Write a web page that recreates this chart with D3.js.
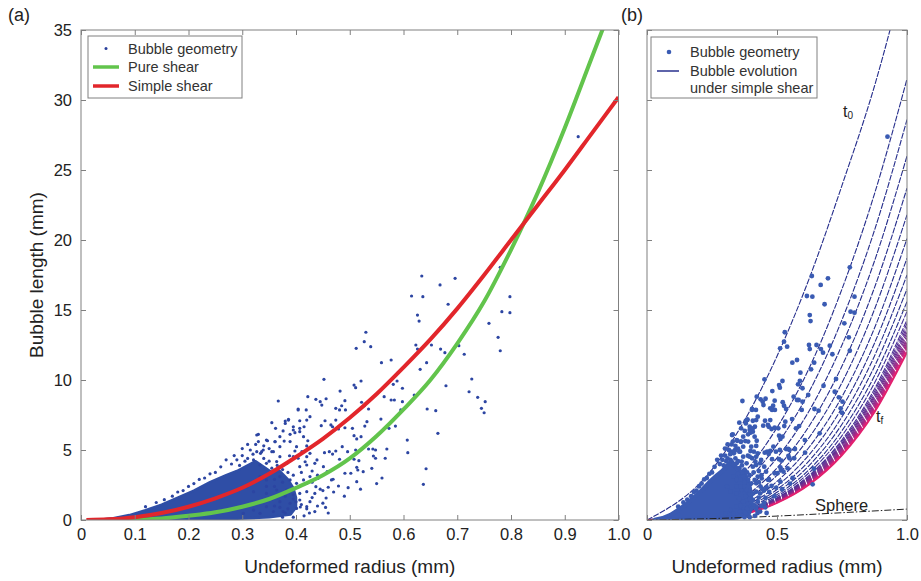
<!DOCTYPE html>
<html><head><meta charset="utf-8">
<script src="https://cdn.jsdelivr.net/npm/d3@7"></script>
<style>body{margin:0;background:#fff} svg{display:block;font-family:"Liberation Sans",Arial,sans-serif}</style>
</head><body><svg id="c" width="921" height="581"></svg>
<script>
// ---------- DATA ----------
const xTicksA = [0,0.1,0.2,0.3,0.4,0.5,0.6,0.7,0.8,0.9,1.0];
const xTicksB = [0,0.5,1.0];
const yTicks = [0,5,10,15,20,25,30,35];

// scattered bubble measurements [radius, length]
const bubblePoints = [
 [0.925,27.38],[0.634,17.43],[0.696,17.26],[0.668,16.79],[0.615,16.0],[0.636,15.95],[0.683,15.41],[0.626,14.64],[0.629,14.21],
 [0.780,18.05],[0.798,15.95],[0.783,14.88],[0.798,14.81],[0.759,14.05],[0.776,13.05],[0.780,12.09],[0.713,11.84],[0.703,12.45],
 [0.669,12.21],[0.677,11.95],[0.652,12.5],[0.623,12.5],[0.626,12.21],[0.643,11.24],[0.631,10.76],[0.727,10.07],[0.722,9.16],
 [0.738,8.76],[0.752,8.45],[0.745,7.98],[0.750,7.66],[0.679,9.59],[0.644,7.93],[0.660,7.81],[0.664,6.19],[0.642,3.66],[0.637,2.55],
 [0.607,5.71],[0.608,4.81],[0.530,13.41],[0.527,12.74],[0.539,12.38],[0.512,12.26],[0.559,11.24],[0.577,11.43],[0.590,10.52],
 [0.521,9.93],[0.508,9.64],[0.511,9.45],[0.482,9.21],[0.581,9.69],[0.588,9.93],[0.598,9.41],[0.564,8.81],[0.577,8.57],[0.583,8.57],
 [0.598,8.45],[0.620,8.93],[0.522,8.41],[0.527,8.16],[0.474,7.98],[0.485,8.16],[0.491,8.52],[0.481,7.86],[0.492,7.86],[0.535,7.93],
 [0.595,7.86],[0.558,7.21],[0.532,7.02],[0.528,6.71],[0.474,7.14],[0.468,6.66],[0.479,6.5],[0.491,6.59],[0.505,6.55],[0.585,6.71],
 [0.573,6.55],[0.508,6.02],[0.521,5.95],[0.513,5.79],[0.486,5.24],[0.474,4.93],[0.496,4.88],[0.511,5.0],[0.535,5.07],[0.543,5.07],
 [0.548,5.0],[0.544,4.57],[0.548,4.41],[0.566,4.41],[0.569,5.07],[0.481,4.34],[0.508,4.34],[0.517,4.24],[0.513,3.76],[0.515,3.57],
 [0.525,3.45],[0.541,3.69],[0.469,2.91],[0.491,3.34],[0.502,3.34],[0.513,2.74],[0.479,2.43],[0.497,2.31],
 [0.367,8.5],[0.452,10.05],[0.422,8.81],[0.437,8.62],[0.445,8.45],[0.456,8.66],[0.448,8.21],[0.404,7.93],[0.419,7.86],[0.426,7.38],
 [0.386,7.19],[0.380,7.07],[0.355,6.95],[0.362,6.55],[0.407,7.09],[0.395,6.66],[0.415,6.66],[0.447,6.74],[0.454,7.09],[0.465,6.79],
 [0.330,6.12],[0.376,6.36],[0.398,6.24],[0.407,6.31],[0.389,6.12],[0.347,5.66],[0.361,5.59],[0.378,5.64],[0.422,5.66],[0.420,5.29],
 [0.426,4.76],[0.439,4.29],[0.435,4.05],[0.398,4.93],[0.388,4.59],[0.404,4.41],[0.417,4.16],[0.327,4.88],[0.339,5.0],[0.334,4.76],
 [0.358,4.88],[0.370,4.52],[0.453,4.81],[0.462,4.88],[0.468,4.71],[0.451,3.81],[0.458,3.45],[0.441,2.98],[0.466,2.86],[0.420,2.62],
 [0.437,2.38],[0.460,2.34],
 [0.327,6.07],[0.330,5.6],[0.345,5.71],[0.361,5.6],[0.370,5.95],[0.380,6.9],[0.386,7.14],[0.395,6.43],[0.404,7.86],[0.407,6.55],
 [0.414,5.95],[0.420,7.14],[0.336,4.88],[0.355,4.88],[0.370,5.24],[0.389,5.6],[0.401,5.24],[0.411,4.88],[0.420,4.52],[0.321,4.29],
 [0.333,3.93],[0.345,4.05],[0.364,4.17],[0.383,4.05],[0.395,4.52],[0.407,3.81],[0.420,3.93],[0.333,3.1],[0.345,2.86],[0.370,3.1],
 [0.389,2.86],[0.401,2.62],[0.414,2.86],[0.426,3.1],[0.308,2.38],[0.321,2.02],[0.345,1.9],[0.364,2.14],[0.383,2.14],[0.395,1.79],
 [0.407,1.9],[0.420,2.02],[0.370,1.31],[0.389,1.19],[0.407,1.43],[0.426,1.31],[0.345,0.95],[0.321,0.71],[0.302,0.48],[0.333,0.48],
 [0.358,0.6],[0.376,0.6],[0.401,0.83],[0.420,0.95],
 [0.37,0.9],[0.38,0.5],[0.40,1.3],[0.42,0.8],[0.43,1.6],[0.45,1.2],[0.47,2.0],[0.49,1.7],[0.52,2.2],[0.55,2.6],[0.56,3.0],[0.45,2.1],
 [0.408,0.93],[0.456,1.57],
 [0.29,4.3],[0.30,4.6],[0.31,4.4],[0.315,5.0],[0.32,4.7],[0.28,4.0],[0.295,3.9],[0.305,4.2],[0.34,4.4],[0.35,4.2],[0.355,3.7],
 [0.365,3.9],[0.375,3.6],[0.385,3.4],[0.395,3.2],[0.41,3.4],[0.43,3.5],[0.44,3.2],[0.43,2.7],[0.445,2.2],[0.435,1.9],[0.44,1.0],
 [0.425,0.5],[0.415,0.3],[0.435,0.6],[0.455,0.9],[0.46,0.5],[0.395,0.2],[0.375,0.2],[0.35,3.3],[0.36,2.9],[0.375,2.7],[0.345,2.4],
 [0.36,2.4],[0.38,1.7],[0.395,1.5],[0.41,1.1],[0.355,1.5],[0.36,1.0],[0.385,0.8],[0.27,4.3],[0.26,3.8],[0.25,3.4],[0.23,3.0],
 [0.21,2.6],[0.19,2.1],[0.17,1.7],[0.31,5.4],[0.34,5.3],[0.35,5.1],[0.285,4.6],[0.3,5.1],[0.325,5.4],[0.24,3.3],[0.22,2.9],
 [0.2,2.4],[0.18,2.0],[0.155,1.45],[0.14,1.25],[0.12,0.95]
];

// outline of the densely packed part of the cloud [radius, length]
const cloudOutline = [
 [0.03,0],[0.06,0.12],[0.09,0.35],[0.12,0.7],[0.15,1.1],[0.18,1.6],[0.21,2.1],[0.24,2.7],[0.27,3.2],[0.29,3.5],
 [0.31,3.9],[0.325,4.2],[0.34,3.8],[0.355,3.4],[0.37,3.5],[0.385,2.9],[0.395,2.3],[0.40,1.6],[0.40,0.9],[0.39,0.4],
 [0.35,0.2],[0.30,0.1],[0.25,0.04],[0.20,0],[0.03,0]
];

const pureShearX = [0.05,0.1,0.15,0.2,0.25,0.3,0.35,0.4,0.45,0.5,0.55,0.6,0.65,0.7,0.75,0.8,0.85,0.9,0.95,0.975];
const pureShearY = [0,0.02,0.1,0.3,0.55,0.95,1.5,2.3,3.2,4.4,6.0,7.9,10.0,12.6,15.6,19.3,23.4,28.0,33.0,35.5];
const simpleShearX = [0.01,0.05,0.1,0.15,0.2,0.25,0.3,0.35,0.4,0.45,0.5,0.55,0.6,0.65,0.7,0.75,0.8,0.85,0.9,0.95,1.0];
const simpleShearY = [0,0.05,0.2,0.5,0.95,1.55,2.3,3.3,4.5,5.8,7.3,9.0,10.9,12.9,15.1,17.5,20.0,22.5,25.0,27.6,30.2];

// bubble evolution under simple shear, from t0 to tf
const evolutionX = [0,0.25,0.5,0.625,0.75,0.875,1.0];
const evolutionCurves = [
 [0,3.6,11.7,17.3,23.9,31.0,39.7],
 [0,1.38,6.6,10.9,16.5,23.3,31.5],
 [0,1.01,5.38,9.21,14.3,20.7,28.6],
 [0,0.76,4.44,7.84,12.5,18.5,26.0],
 [0,0.58,3.72,6.75,11.0,16.6,23.7],
 [0,0.47,3.19,5.92,9.81,15.05,21.8],
 [0,0.38,2.76,5.23,8.81,13.71,20.1],
 [0,0.32,2.43,4.69,8.02,12.63,18.7],
 [0,0.27,2.18,4.26,7.37,11.72,17.5],
 [0,0.24,1.98,3.92,6.84,10.97,16.5],
 [0,0.21,1.81,3.62,6.38,10.30,15.6],
 [0,0.19,1.68,3.40,6.03,9.79,14.9],
 [0,0.17,1.58,3.21,5.73,9.36,14.3],
 [0,0.165,1.54,3.13,5.61,9.18,14.05],
 [0,0.16,1.50,3.06,5.49,9.0,13.8],
 [0,0.155,1.46,3.0,5.40,8.85,13.6],
 [0,0.15,1.43,2.94,5.30,8.71,13.4],
 [0,0.145,1.40,2.88,5.20,8.57,13.2],
 [0,0.14,1.37,2.83,5.11,8.43,13.0],
 [0,0.14,1.34,2.78,5.04,8.32,12.85],
 [0,0.14,1.32,2.74,4.97,8.22,12.7],
 [0,0.135,1.30,2.70,4.91,8.13,12.57],
 [0,0.13,1.28,2.67,4.85,8.04,12.45],
 [0,0.13,1.26,2.64,4.80,7.97,12.35],
 [0,0.13,1.25,2.61,4.76,7.90,12.25],
 [0,0.13,1.23,2.57,4.69,7.80,12.1],
 [0,0.12,1.22,2.55,4.64,7.72,12.0]
];
const sphereX = [0,0.25,0.5,0.75,1.0];
const sphereY = [0,0.1,0.28,0.52,0.78];

// ---------- LAYOUT ----------
const svg = d3.select('#c');
const plotTop = 30, plotBottom = 520;
const y = d3.scaleLinear().domain([0,35]).range([plotBottom, plotTop]);
const xa = d3.scaleLinear().domain([0,1]).range([81, 618.5]);
const xb = d3.scaleLinear().domain([0,1]).range([647, 907]);
const frameCol = '#808080', textCol = '#222';

const defs = svg.append('defs');
[['clipA',xa],['clipB',xb]].forEach(([id,sc]) => {
  defs.append('clipPath').attr('id',id).append('rect')
    .attr('x',sc.range()[0]).attr('y',plotTop).attr('width',sc.range()[1]-sc.range()[0]).attr('height',plotBottom-plotTop);
});

function frame(x, xt, labelX) {
  const g = svg.append('g');
  const fmt = d => d===0 ? '0' : d3.format('.1f')(d);
  const b = g.append('g').attr('transform',`translate(0,${plotBottom})`)
    .call(d3.axisBottom(x).tickValues(xt).tickSizeInner(-5).tickSizeOuter(0).tickPadding(8).tickFormat(fmt));
  const t = g.append('g').attr('transform',`translate(0,${plotTop})`)
    .call(d3.axisTop(x).tickValues(xt).tickSizeInner(-5).tickSizeOuter(0).tickFormat(''));
  const l = g.append('g').attr('transform',`translate(${x.range()[0]},0)`)
    .call(d3.axisLeft(y).tickValues(yTicks).tickSizeInner(-5).tickSizeOuter(0).tickPadding(9).tickFormat(labelX ? d3.format('d') : ''));
  const r = g.append('g').attr('transform',`translate(${x.range()[1]},0)`)
    .call(d3.axisRight(y).tickValues(yTicks).tickSizeInner(-5).tickSizeOuter(0).tickFormat(''));
  [b,t,l,r].forEach(a => {
    a.select('.domain').remove();
    a.selectAll('line').attr('stroke',frameCol);
    a.selectAll('text').attr('fill',textCol).style('font-size','16.5px').style('font-family','"Liberation Sans",Arial,sans-serif');
  });
  g.append('rect').attr('x',x.range()[0]).attr('y',plotTop).attr('width',x.range()[1]-x.range()[0]).attr('height',plotBottom-plotTop)
    .attr('fill','none').attr('stroke',frameCol).attr('stroke-width',1);
  g.append('text').attr('x',(x.range()[0]+x.range()[1])/2).attr('y',573).attr('text-anchor','middle')
    .attr('fill',textCol).style('font-size','19px').text('Undeformed radius (mm)');
}

// ---------- PANEL A ----------
const ga = svg.append('g').attr('clip-path','url(#clipA)');
const cloudLineA = d3.line().x(d=>xa(d[0])).y(d=>y(d[1])).curve(d3.curveLinearClosed);
ga.append('path').attr('d',cloudLineA(cloudOutline)).attr('fill','#2f4ea6').attr('stroke','#2f4ea6')
  .attr('stroke-width',2.5).attr('stroke-linejoin','round');
ga.selectAll('circle').data(bubblePoints).join('circle')
  .attr('cx',d=>xa(d[0])).attr('cy',d=>y(d[1])).attr('r',1.6).attr('fill','#2c45a2');
const lineA = d3.line().x(d=>xa(d[0])).y(d=>y(d[1])).curve(d3.curveMonotoneX);
ga.append('path').attr('d',lineA(pureShearX.map((v,i)=>[v,pureShearY[i]])))
  .attr('fill','none').attr('stroke','#62c44c').attr('stroke-width',4);
ga.append('path').attr('d',lineA(simpleShearX.map((v,i)=>[v,simpleShearY[i]])))
  .attr('fill','none').attr('stroke','#e2262b').attr('stroke-width',4);
frame(xa, xTicksA, true);

// ---------- PANEL B ----------
const gb = svg.append('g').attr('clip-path','url(#clipB)');
const lineB = d3.line().x(d=>xb(d[0])).y(d=>y(d[1])).curve(d3.curveMonotoneX);
const nC = evolutionCurves.length;
const pink = d3.interpolateRgb('#3b2f96','#e3207a');
evolutionCurves.forEach((vals,i) => {
  const t = i/(nC-1);
  const col = t < 0.4 ? '#262e8c' : pink(Math.pow((t-0.4)/0.6,1.2));
  const last = i === nC-1;
  gb.append('path').attr('d',lineB(evolutionX.map((v,j)=>[v,vals[j]])))
    .attr('fill','none').attr('stroke', last ? '#e2206e' : col)
    .attr('stroke-width', last ? 2 : 1.1)
    .attr('stroke-dasharray', last ? null : '6,1.3');
});
const cloudLineB = d3.line().x(d=>xb(d[0])).y(d=>y(d[1])).curve(d3.curveLinearClosed);
gb.append('path').attr('d',cloudLineB(cloudOutline)).attr('fill','#3a5bb3').attr('stroke','#3a5bb3')
  .attr('stroke-width',4.5).attr('stroke-linejoin','round');
gb.append('path').attr('d',lineB(sphereX.map((v,i)=>[v,sphereY[i]])))
  .attr('fill','none').attr('stroke','#222').attr('stroke-width',1).attr('stroke-dasharray','7,2,1.5,2');
gb.selectAll('circle').data(bubblePoints).join('circle')
  .attr('cx',d=>xb(d[0])).attr('cy',d=>y(d[1])).attr('r',2.4).attr('fill','#3a5bb3');
frame(xb, xTicksB, false);

// annotations panel b
const t0 = svg.append('text').attr('x',843).attr('y',117).attr('fill',textCol).style('font-size','16px');
t0.append('tspan').text('t');
t0.append('tspan').attr('dy',2).style('font-size','10px').text('0');
const tf = svg.append('text').attr('x',876).attr('y',422).attr('fill',textCol).style('font-size','16px');
tf.append('tspan').text('t');
tf.append('tspan').attr('dy',2).style('font-size','10px').text('f');
svg.append('text').attr('x',815).attr('y',511).attr('fill',textCol).style('font-size','16.5px').text('Sphere');

// panel labels & y title
svg.append('text').attr('x',8).attr('y',21).attr('fill',textCol).style('font-size','18px').text('(a)');
svg.append('text').attr('x',621).attr('y',21).attr('fill',textCol).style('font-size','18px').text('(b)');
svg.append('text').attr('transform','translate(43,275) rotate(-90)').attr('text-anchor','middle')
  .attr('fill',textCol).style('font-size','19px').text('Bubble length (mm)');

// legends
const la = svg.append('g');
la.append('rect').attr('x',88).attr('y',36).attr('width',154).attr('height',62).attr('fill','#fff').attr('stroke',frameCol);
la.append('circle').attr('cx',106).attr('cy',48.5).attr('r',1.5).attr('fill','#2a3f9c');
la.append('line').attr('x1',93).attr('x2',119).attr('y1',67).attr('y2',67).attr('stroke','#62c44c').attr('stroke-width',3.5);
la.append('line').attr('x1',93).attr('x2',119).attr('y1',86).attr('y2',86).attr('stroke','#e2262b').attr('stroke-width',3.5);
[['Bubble geometry',49],['Pure shear',67],['Simple shear',86]].forEach(([s,yy]) =>
  la.append('text').attr('x',128).attr('y',yy).attr('dy','0.35em').attr('fill','#333').style('font-size','14.5px').text(s));

const lb = svg.append('g');
lb.append('rect').attr('x',651).attr('y',37).attr('width',166).attr('height',61).attr('fill','#fff').attr('stroke',frameCol);
lb.append('circle').attr('cx',669).attr('cy',52).attr('r',2.3).attr('fill','#3a5bb3');
lb.append('line').attr('x1',657).attr('x2',679).attr('y1',71).attr('y2',71).attr('stroke','#28308e').attr('stroke-width',1.5);
[['Bubble geometry',52],['Bubble evolution',71],['under simple shear',88]].forEach(([s,yy]) =>
  lb.append('text').attr('x',690).attr('y',yy).attr('dy','0.35em').attr('fill','#333').style('font-size','14.5px').text(s));
</script></body></html>
